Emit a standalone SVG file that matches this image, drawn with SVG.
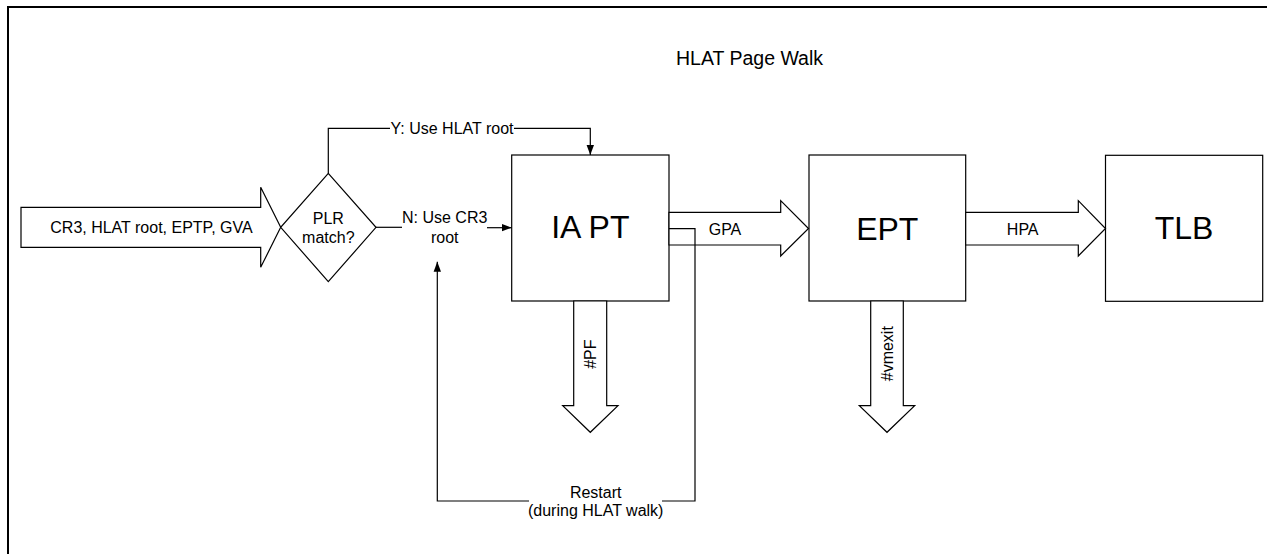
<svg xmlns="http://www.w3.org/2000/svg" width="1267" height="554" viewBox="0 0 1267 554">
  <style>
    .shape { fill: #fff; stroke: #000; stroke-width: 1.2; }
    .wire { fill: none; stroke: #000; stroke-width: 1.2; }
    text { font-family: "Liberation Sans", Arial, sans-serif; fill: #000; }
    .lbl { font-size: 16px; }
    .big { font-size: 32px; }
    .mid { text-anchor: middle; }
  </style>
  <defs>
    <marker id="head" viewBox="0 0 10 10" refX="10" refY="5" markerWidth="10" markerHeight="10" markerUnits="userSpaceOnUse" orient="auto">
      <path d="M0,1.3 L10,5 L0,8.7 Z" fill="#000"/>
    </marker>
  </defs>

  <rect width="1267" height="554" fill="#fff"/>
  <!-- page frame -->
  <rect x="8" y="7" width="1300" height="600" fill="none" stroke="#000" stroke-width="2"/>

  <text class="mid" x="749.5" y="65" style="font-size:19.5px">HLAT Page Walk</text>

  <!-- input arrow -->
  <g id="input">
    <polygon class="shape" points="21,207.3 260.7,207.3 260.7,187.3 280.7,227.3 260.7,267.3 260.7,247.3 21,247.3"/>
    <text class="lbl mid" x="151.5" y="233">CR3, HLAT root, EPTP, GVA</text>
  </g>

  <!-- decision -->
  <g id="plr-match">
    <polygon class="shape" points="328.3,173.3 376,227.3 328.3,281.7 280.7,227.3"/>
    <text class="lbl mid" x="328.3" y="224">PLR</text>
    <text class="lbl mid" x="328.3" y="242.5">match?</text>
  </g>

  <g id="ia-pt">
    <rect class="shape" x="511.7" y="155" width="157.3" height="146"/>
    <text class="big mid" x="590.3" y="238">IA PT</text>
  </g>

  <g id="ept">
    <rect class="shape" x="809" y="155" width="156.7" height="146"/>
    <text class="big mid" x="887.3" y="240">EPT</text>
  </g>

  <g id="tlb">
    <rect class="shape" x="1105.5" y="155.3" width="157.2" height="146"/>
    <text class="big mid" x="1184" y="239">TLB</text>
  </g>

  <!-- block arrows -->
  <g id="gpa">
    <polygon class="shape" points="669,212.3 780.7,212.3 780.7,200.7 808.5,228.5 780.7,256 780.7,245 669,245"/>
    <text class="lbl mid" x="725" y="234.5">GPA</text>
  </g>
  <g id="hpa">
    <polygon class="shape" points="965.7,212.3 1078.3,212.3 1078.3,200.7 1105.5,228.5 1078.3,256 1078.3,245 965.7,245"/>
    <text class="lbl mid" x="1022.7" y="234.5">HPA</text>
  </g>
  <g id="pf">
    <polygon class="shape" points="573.7,301 606.7,301 606.7,405.7 618,405.7 590.3,432.3 562.7,405.7 573.7,405.7"/>
    <text class="lbl mid" transform="translate(596,354.2) rotate(-90)">#PF</text>
  </g>
  <g id="vmexit">
    <polygon class="shape" points="870.7,301 903.3,301 903.3,405.7 914.7,405.7 887,432.3 859.3,405.7 870.7,405.7"/>
    <text class="lbl mid" transform="translate(892.8,353.7) rotate(-90)">#vmexit</text>
  </g>

  <!-- connectors -->
  <g id="connectors">
    <polyline class="wire" points="328.3,173.3 328.3,128.3 390,128.3"/>
    <polyline class="wire" points="514,128.3 590.3,128.3 590.3,155" marker-end="url(#head)"/>
    <line class="wire" x1="376" y1="227.3" x2="402" y2="227.3"/>
    <line class="wire" x1="487" y1="227.7" x2="511.7" y2="227.7" marker-end="url(#head)"/>
    <polyline class="wire" points="669,228.7 695,228.7 695,501 662,501"/>
    <polyline class="wire" points="529,501 437.3,501 437.3,261.7" marker-end="url(#head)"/>
  </g>

  <!-- connector labels -->
  <text class="lbl" x="390.5" y="134.3">Y: Use HLAT root</text>
  <text class="lbl mid" x="444.7" y="223.3">N: Use CR3</text>
  <text class="lbl mid" x="444.7" y="242.5">root</text>
  <text class="lbl mid" x="595.7" y="497.7">Restart</text>
  <text class="lbl mid" x="595.7" y="516.3">(during HLAT walk)</text>
</svg>
